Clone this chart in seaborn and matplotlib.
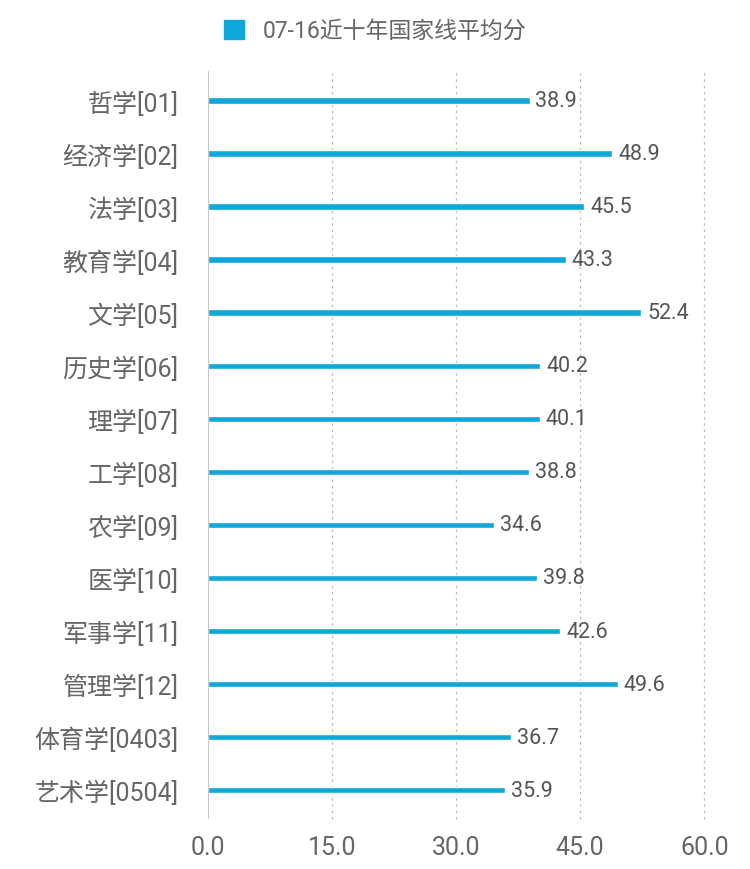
import matplotlib
matplotlib.use("Agg")
import matplotlib.pyplot as plt
import matplotlib.patches as mpatches
import seaborn as sns
import pandas as pd

categories = ["哲学[01]", "经济学[02]", "法学[03]", "教育学[04]", "文学[05]", "历史学[06]",
              "理学[07]", "工学[08]", "农学[09]", "医学[10]", "军事学[11]", "管理学[12]",
              "体育学[0403]", "艺术学[0504]"]
scores = [38.9, 48.9, 45.5, 43.3, 52.4, 40.2, 40.1, 38.8, 34.6, 39.8, 42.6, 49.6, 36.7, 35.9]
x_ticks = [0, 15, 30, 45, 60]
series_name = "07-16近十年国家线平均分"

bar_color = "#0fa6d8"
text_color = "#666666"

sns.set_theme(style="white")
plt.rcParams["font.family"] = ["Roboto", "Noto Sans CJK SC", "DejaVu Sans"]

df = pd.DataFrame({"category": categories, "score": scores})

fig = plt.figure(figsize=(7.5, 8.7), dpi=100)
ax = fig.add_axes([0.277, 0.057, 0.662, 0.860])

sns.barplot(data=df, x="score", y="category", orient="h", color=bar_color,
            width=0.12, saturation=1, ax=ax)

for i, v in enumerate(scores):
    ax.text(v + 0.7, i, f"{v:.1f}", va="center", ha="left", fontsize=15.5,
            color="#555555")

ax.set_xlim(0, 60)
ax.set_ylim(13.55, -0.55)
ax.set_xticks(x_ticks)
ax.set_xticklabels([f"{t:.1f}" for t in x_ticks])
for t in x_ticks[1:]:
    ax.axvline(t, color="#bbbbbb", linestyle=(0, (2, 3)), linewidth=0.9, zorder=0, clip_on=False)
ax.axvline(0, color="#bbbbbb", linewidth=1.2, zorder=3)

for s in ax.spines.values():
    s.set_visible(False)
ax.tick_params(axis="x", length=0, labelsize=18, labelcolor=text_color, pad=11)
ax.tick_params(axis="y", length=0, labelsize=18, labelcolor=text_color, pad=21)
ax.set_xlabel("")
ax.set_ylabel("")

handle = mpatches.Patch(color=bar_color, label=series_name)
fig.legend(handles=[handle], loc="upper center", bbox_to_anchor=(0.5, 1.0), frameon=False,
           fontsize=16.5, labelcolor=text_color, handlelength=0.9, handleheight=0.9,
           handletextpad=0.8)

fig.savefig("out.png", dpi=100)
